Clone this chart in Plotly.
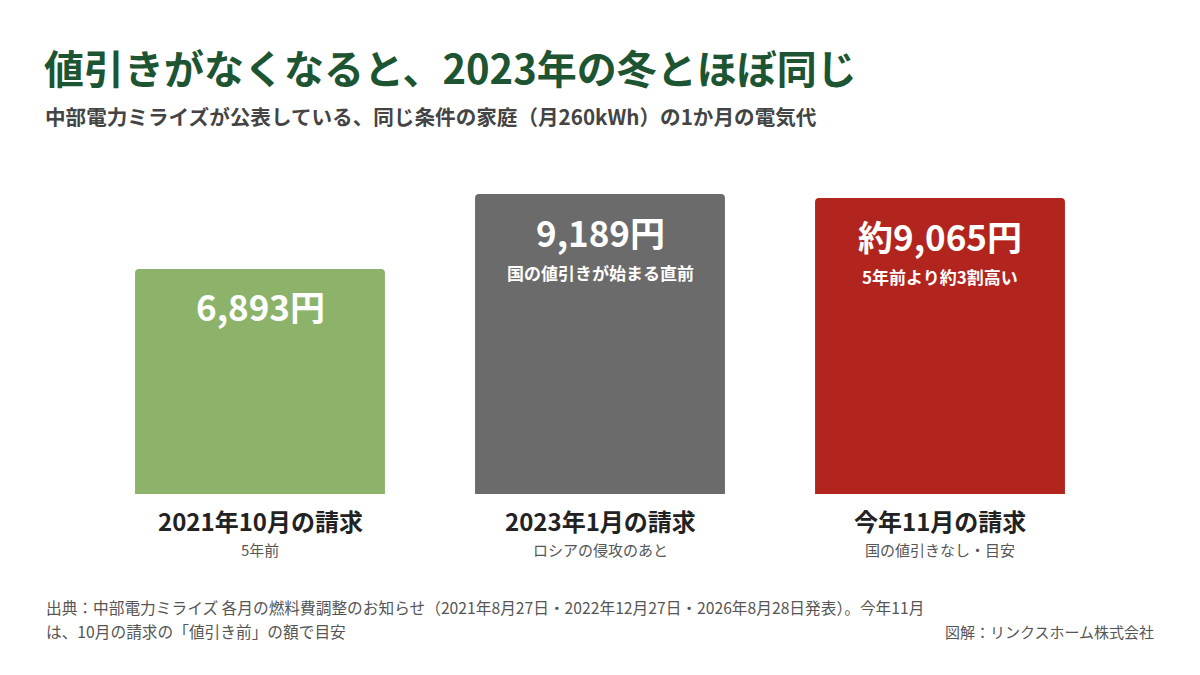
import plotly.graph_objects as go

categories = ["2021年10月の請求", "2023年1月の請求", "今年11月の請求"]
sublabels = ["5年前", "ロシアの侵攻のあと", "国の値引きなし・目安"]
values = [6893, 9189, 9065]
value_labels = ["6,893円", "9,189円", "約9,065円"]
inner_notes = ["", "国の値引きが始まる直前", "5年前より約3割高い"]
colors = ["#8db36a", "#6b6b6b", "#b2251e"]

title = "値引きがなくなると、2023年の冬とほぼ同じ"
subtitle = "中部電力ミライズが公表している、同じ条件の家庭（月260kWh）の1か月の電気代"
source_lines = [
    "出典：中部電力ミライズ 各月の燃料費調整のお知らせ（2021年8月27日・2022年12月27日・2026年8月28日発表）。今年11月",
    "は、10月の請求の「値引き前」の額で目安",
]
credit = "図解：リンクスホーム株式会社"

FONT = "Noto Sans CJK JP"
x = list(range(len(categories)))

fig = go.Figure()
fig.add_trace(go.Bar(
    x=x, y=values, marker=dict(color=colors, line=dict(width=0)),
    width=0.735, hoverinfo="skip", showlegend=False,
))

ann = []
for i in x:
    ann.append(dict(x=i, y=values[i], xref="x", yref="y", text=f"<b>{value_labels[i]}</b>",
                    showarrow=False, yanchor="middle", yshift=-37,
                    font=dict(family=FONT, size=35, color="white")))
    if inner_notes[i]:
        ann.append(dict(x=i, y=values[i], xref="x", yref="y", text=f"<b>{inner_notes[i]}</b>",
                        showarrow=False, yanchor="middle", yshift=-78,
                        font=dict(family=FONT, size=17, color="white")))
    ann.append(dict(x=i, y=0, xref="x", yref="y", text=f"<b>{categories[i]}</b>",
                    showarrow=False, yanchor="middle", yshift=-26,
                    font=dict(family=FONT, size=24, color="#222222")))
    ann.append(dict(x=i, y=0, xref="x", yref="y", text=sublabels[i],
                    showarrow=False, yanchor="middle", yshift=-55,
                    font=dict(family=FONT, size=15, color="#555555")))

ann.append(dict(x=42, y=675 - 67, xref="paper", yref="paper", text=f"<b>{title}</b>",
                showarrow=False, xanchor="left", yanchor="middle",
                font=dict(family=FONT, size=40, color="#1d5432")))
ann.append(dict(x=43, y=675 - 116, xref="paper", yref="paper", text=f"<b>{subtitle}</b>",
                showarrow=False, xanchor="left", yanchor="middle",
                font=dict(family=FONT, size=20.6, color="#444444")))
for k, line in enumerate(source_lines):
    ann.append(dict(x=44, y=675 - (607 + 24 * k), xref="paper", yref="paper", text=line,
                    showarrow=False, xanchor="left", yanchor="middle", align="left",
                    font=dict(family=FONT, size=15.7, color="#555555")))
ann.append(dict(x=1156, y=675 - 631, xref="paper", yref="paper", text=credit,
                showarrow=False, xanchor="right", yanchor="middle",
                font=dict(family=FONT, size=15, color="#555555")))

# convert paper pixel coords to paper fractions
L, R, T, B = 90, 90, 194, 181
W, H = 1200, 675
for a in ann:
    if a["xref"] == "paper":
        a["x"] = (a["x"] - L) / (W - L - R)
        a["y"] = (a["y"] - B) / (H - T - B)

fig.update_layout(
    width=W, height=H,
    margin=dict(l=L, r=R, t=T, b=B, pad=0),
    paper_bgcolor="white", plot_bgcolor="white",
    barcornerradius=4,
    xaxis=dict(range=[-0.5, 2.5], visible=False, fixedrange=True),
    yaxis=dict(range=[0, values[1]], visible=False, fixedrange=True),
    annotations=ann,
    font=dict(family=FONT),
)

fig.write_html("out.html", config={"displayModeBar": False},
               post_script="document.body.style.margin='0px';document.body.style.overflow='hidden';")
